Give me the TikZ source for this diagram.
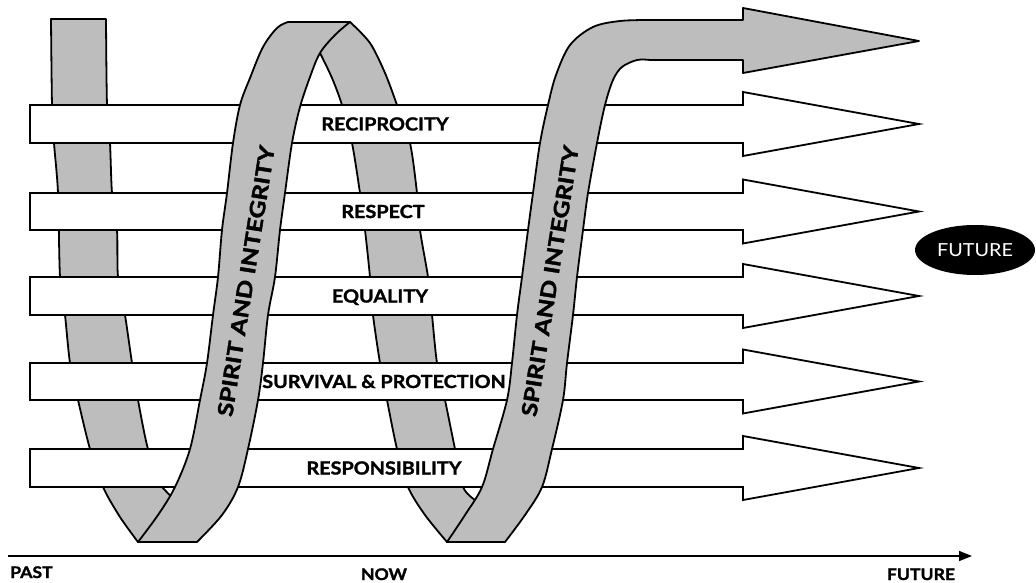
\documentclass[tikz,border=0pt]{standalone}
\usepackage{fontspec}
\setmainfont{Lato}
\newfontfamily\labelfont{Lato}[FakeStretch=1.1, BoldFeatures={FakeBold=1.5}]
\newfontfamily\bandfont{Lato}[FakeStretch=1.2, BoldFeatures={FakeBold=1.8}]
\newfontfamily\markfont{Lato}[FakeStretch=1.1]
\usetikzlibrary{arrows.meta,shapes.geometric}
\definecolor{ribbongray}{gray}{0.74}
\tikzset{
  ribbon/.style={fill=ribbongray, draw=black, line width=1.8pt, line join=round},
  bar/.style={fill=white, draw=black, line width=1.8pt, line join=miter},
  barlabel/.style={font=\labelfont\bfseries\fontsize{18}{18}\selectfont,
    inner sep=0pt, text height=13pt, text depth=0pt},
  bandlabel/.style={font=\bandfont\bfseries\fontsize{21}{21}\selectfont,
    inner sep=0pt, rotate=81},
  axislabel/.style={font=\labelfont\bfseries\fontsize{16}{16}\selectfont,
    inner sep=0pt, anchor=base},
}
\begin{document}
\begin{tikzpicture}[x=1pt,y=-1pt]
\useasboundingbox (0,0) rectangle (1036,583);

% descending strands of the spiral, behind the value arrows
\filldraw[ribbon] (51,19) -- plot[smooth,tension=0.5] coordinates {(51,19) (52,105) (54,143) (58,193) (60,277) (65,315) (70,363) (78,400) (90,449) (103,487) (120,517) (138,542)}
  -- (160,540) -- (180,506)
  -- plot[smooth,tension=0.5] coordinates {(162,487) (148,449) (138,400) (132,363) (125,315) (118,277) (117,230) (112,193) (110,143) (107,105) (106,19)} -- cycle;

\filldraw[ribbon] (330,22) -- (350,22)
  -- plot[smooth,tension=0.5] coordinates {(350,22) (370,43) (385,73) (397,105) (410,143) (417,193) (420,230) (428,277) (432,315) (437,363) (445,400) (455,449) (463,487) (475,500)}
  -- (492,512) -- (470,540) -- (447,542)
  -- plot[smooth,tension=0.5] coordinates {(447,542) (425,515) (408,487) (397,449) (387,400) (380,363) (373,315) (370,277) (365,230) (360,193) (352,143) (342,105) (332,78) (320,53)} -- cycle;

% the five value arrows
\foreach \t/\b in {105/143, 193/230, 277/315, 363/400, 449/487} {
  \pgfmathsetmacro{\c}{(\t+\b)/2}
  \filldraw[bar] (30,\t) -- (743,\t) -- (743,\c-32) -- (919,\c) -- (743,\c+32) -- (743,\b) -- (30,\b) -- cycle;
}
\node[barlabel] (reciprocity) at (385,124) {RECIPROCITY};
\node[barlabel] (respect) at (383,211.5) {RESPECT};
\node[barlabel] (equality) at (380,296) {EQUALITY};
\node[barlabel] (survival) at (384,381.5) {SURVIVAL \& PROTECTION};
\node[barlabel] (responsibility) at (384,468) {RESPONSIBILITY};

% ascending strands of the spiral, in front of the value arrows
\filldraw[ribbon] (138,542)
  -- plot[smooth,tension=0.55] coordinates {(138,542) (158,515) (175,487) (190,449) (200,400) (207,363) (213,315) (218,277) (222,230) (227,193) (233,143) (240,105) (250,78) (263,47) (277,28) (288,22)}
  -- (350,22)
  -- plot[smooth,tension=0.55] coordinates {(350,22) (335,35) (320,53) (310,77) (300,107) (292,143) (285,193) (280,230) (275,277) (268,315) (263,363) (258,400) (248,449) (238,487) (222,515) (197,542)} -- cycle;

\filldraw[ribbon] (447,542)
  -- plot[smooth,tension=0.55] coordinates {(447,542) (465,515) (482,487) (493,449) (507,400) (512,363) (517,315) (522,277) (528,230) (533,193) (540,143) (548,105) (556,75) (570,45) (593,27) (620,21) (650,20)}
  -- (743,20) -- (743,8) -- (919,41) -- (743,73) -- (743,60) -- (650,60)
  -- plot[smooth,tension=0.55] coordinates {(650,60) (637,60) (622,67) (613,80) (605,105) (597,143) (588,193) (583,230) (577,277) (573,315) (567,363) (563,400) (552,449) (542,487) (525,515) (505,542)} -- cycle;

\node[bandlabel] (band1) at (246,281) {SPIRIT AND INTEGRITY};
\node[bandlabel] (band2) at (550,281) {SPIRIT AND INTEGRITY};

% future marker
\node[ellipse, fill=black, minimum width=120pt, minimum height=50pt, inner sep=0pt,
  text=white, font=\markfont\fontsize{18}{18}\selectfont] (future) at (975,250) {FUTURE};

% time line
\coordinate (tstart) at (8,556);
\coordinate (tend) at (972,556);
\draw[line width=1.5pt, -{Triangle[length=13pt,width=10pt]}] (tstart) -- (tend);
\node[axislabel, anchor=base west] (past) at (10,578) {PAST};
\node[axislabel] (now) at (384,580) {NOW};
\node[axislabel] (futurelabel) at (921,580) {FUTURE};
\end{tikzpicture}
\end{document}
